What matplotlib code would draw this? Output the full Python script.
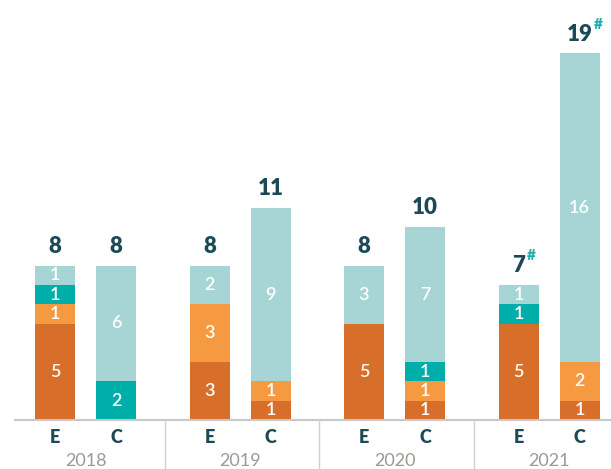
import matplotlib
matplotlib.use("Agg")
import matplotlib.pyplot as plt

years = ["2018", "2019", "2020", "2021"]
kinds = ["E", "C"]
# stacked segments per bar, bottom to top: dark orange, light orange, teal, light teal
dark_orange = [5, 0, 3, 1, 5, 1, 5, 1]
light_orange = [1, 0, 3, 1, 0, 1, 0, 2]
teal = [1, 2, 0, 0, 0, 1, 1, 0]
light_teal = [1, 6, 2, 9, 3, 7, 1, 16]
totals = [8, 8, 8, 11, 8, 10, 7, 19]
flagged = [False, False, False, False, False, False, True, True]

colors = ["#d76f2a", "#f59a40", "#00aea9", "#a7d5d5"]
dark_text = "#1b4a56"
hash_color = "#1fb0ad"
grey = "#9a9a94"

plt.rcParams["font.family"] = ["Lato", "DejaVu Sans"]

W, H = 611, 469
fig = plt.figure(figsize=(W / 100, H / 100), dpi=100)
base_px = 49
unit_px = 19.3
ax = fig.add_axes([0, base_px / H, 1, 1 - base_px / H])
ax.set_xlim(0, W)
ax.set_ylim(0, (H - base_px) / unit_px)
ax.axis("off")

# bar centres in pixel units along x
group_step = 154.5
inner = 61
first = 55
xs = []
for g in range(len(years)):
    xs.append(first + g * group_step)
    xs.append(first + g * group_step + inner)

bar_w = 40
series = [dark_orange, light_orange, teal, light_teal]
for i, x in enumerate(xs):
    bottom = 0
    for s, col in zip(series, colors):
        v = s[i]
        if v:
            ax.bar(x, v, width=bar_w, bottom=bottom, color=col, linewidth=0)
            ax.text(x, bottom + v / 2, str(v), ha="center", va="center",
                    color="white", fontsize=13, fontweight="semibold")
        bottom += v
    ax.text(x, totals[i] + 0.45, str(totals[i]), ha="center", va="bottom",
            color=dark_text, fontsize=16, fontweight="heavy")
    if flagged[i]:
        ax.annotate("#", xy=(x, totals[i] + 0.45), xytext=(4.5 * len(str(totals[i])) + 1.5, 10),
                    textcoords="offset points", ha="left", va="bottom",
                    color=hash_color, fontsize=11, fontweight="heavy")

# baseline and group separators below the axes
fig.add_artist(plt.Line2D([15 / W, 1], [base_px / H, base_px / H],
                          color="#c8c8c8", linewidth=1.5))
for g in range(1, len(years)):
    sx = (first + g * group_step - 45) / W
    fig.add_artist(plt.Line2D([sx, sx], [0, base_px / H], color="#d0d0d0", linewidth=1))

for i, x in enumerate(xs):
    fig.text(x / W, (H - 437) / H, kinds[i % 2], ha="center", va="center",
             color=dark_text, fontsize=13, fontweight="heavy")
for g, yr in enumerate(years):
    cx = (first + g * group_step + inner / 2) / W
    fig.text(cx, (H - 461) / H, yr, ha="center", va="center", color=grey, fontsize=13)

fig.savefig("out.png", dpi=100)
